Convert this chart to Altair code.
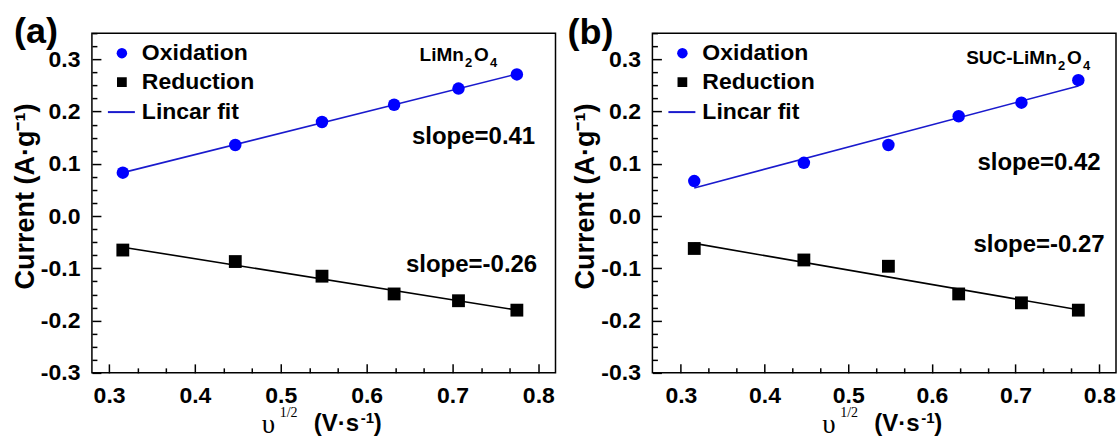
import altair as alt
import pandas as pd

# ---- data ----
x_vals = [0.316, 0.447, 0.548, 0.632, 0.707, 0.775]
a_ox = [0.083, 0.136, 0.180, 0.213, 0.244, 0.271]
a_red = [-0.065, -0.087, -0.115, -0.149, -0.162, -0.180]
b_ox = [0.067, 0.102, 0.136, 0.191, 0.217, 0.260]
b_red = [-0.062, -0.084, -0.096, -0.149, -0.166, -0.180]

x_major = [0.3, 0.4, 0.5, 0.6, 0.7, 0.8]
x_minor = [0.3333, 0.3667, 0.4333, 0.4667, 0.5333, 0.5667,
           0.6333, 0.6667, 0.7333, 0.7667]
y_major = [-0.3, -0.2, -0.1, 0.0, 0.1, 0.2, 0.3]
y_minor = [-0.275, -0.25, -0.225, -0.175, -0.15, -0.125, -0.075, -0.05,
           -0.025, 0.025, 0.05, 0.075, 0.125, 0.15, 0.175, 0.225, 0.25,
           0.275, 0.325, 0.35]

series_names = ["Oxidation", "Reduction"]
legend_fit = "Lincar fit"

W, H = 464, 340
FONT = "Liberation Sans"
SERIF = "Liberation Serif"
BLUE = "#0000ff"
LINE_BLUE = "#1a1acd"


def text(t, x, y, size, font=FONT, weight="bold", align="left",
         baseline="alphabetic"):
    return alt.Chart(alt.Data(values=[{}])).mark_text(
        text=t, fontSize=size, font=font, fontWeight=weight, align=align,
        baseline=baseline, color="black"
    ).encode(x=alt.value(x), y=alt.value(y))


def formula(prefix, x0, y0):
    # prefix + Mn_2 O_4 with real sub-scripts
    size, sub = 19, 13
    w_prefix = {"LiMn": 44.5, "SUC-LiMn": 91.0}[prefix]
    return [
        text(prefix, x0, y0, size),
        text("2", x0 + w_prefix + 1.0, y0 + 6, sub),
        text("O", x0 + w_prefix + 10.0, y0, size),
        text("4", x0 + w_prefix + 26.0, y0 + 6, sub),
    ]


def panel(ox, red, xdom, tag, tag_dx, tag_y, name, name_pos, s_ox, s_ox_pos,
          s_red, s_red_pos):
    df = pd.DataFrame({
        "x": x_vals + x_vals,
        "y": ox + red,
        "series": [series_names[0]] * 6 + [series_names[1]] * 6,
    })
    base = alt.Chart(df)
    xs = alt.Scale(domain=xdom, nice=False, zero=False)
    ys = alt.Scale(domain=[-0.3, 0.35], nice=False, zero=False)

    x_maj = alt.Axis(orient="bottom", values=x_major, tickSize=9, offset=-9,
                     domain=False, grid=False, title=None, format=".1f",
                     labelFont=FONT, labelFontSize=23, labelFontWeight="bold",
                     labelColor="black", labelPadding=12, labelFlush=False,
                     labelOverlap=False, tickColor="black", tickWidth=1.5)
    x_min = alt.Axis(orient="bottom", values=x_minor, tickSize=5, offset=-5,
                     domain=False, grid=False, title=None, labels=False,
                     tickColor="black", tickWidth=1.5)
    y_maj = alt.Axis(orient="left", values=y_major, tickSize=9, offset=-9,
                     domain=False, grid=False,
                     title="Current (A·g⁻¹)", titleFont=FONT,
                     titleFontSize=27, titleFontWeight="bold",
                     titleColor="black", titlePadding=1, titleY=163,
                     labelExpr="replace(format(datum.value, '.1f'), '\u2212', '-')",
                     labelFont=FONT, labelFontSize=23, labelFontWeight="bold",
                     labelColor="black", labelPadding=12, labelFlush=False,
                     labelOverlap=False, tickColor="black", tickWidth=1.5)
    y_min = alt.Axis(orient="left", values=y_minor, tickSize=5, offset=-5,
                     domain=False, grid=False, title=None, labels=False,
                     tickColor="black", tickWidth=1.5)

    fit_ox = base.transform_filter(alt.datum.series == series_names[0]) \
        .transform_regression("x", "y") \
        .mark_line(color=LINE_BLUE, strokeWidth=1.6) \
        .encode(x=alt.X("x:Q", scale=xs, axis=None),
                y=alt.Y("y:Q", scale=ys, axis=None))
    fit_red = base.transform_filter(alt.datum.series == series_names[1]) \
        .transform_regression("x", "y") \
        .mark_line(color="black", strokeWidth=1.6) \
        .encode(x=alt.X("x:Q", scale=xs, axis=None),
                y=alt.Y("y:Q", scale=ys, axis=None))
    pts_ox = base.transform_filter(alt.datum.series == series_names[0]) \
        .mark_circle(size=155, color=BLUE, opacity=1) \
        .encode(x=alt.X("x:Q", scale=xs, axis=x_maj),
                y=alt.Y("y:Q", scale=ys, axis=y_maj))
    pts_red = base.transform_filter(alt.datum.series == series_names[1]) \
        .mark_square(size=165, color="black", opacity=1) \
        .encode(x=alt.X("x:Q", scale=xs, axis=x_min),
                y=alt.Y("y:Q", scale=ys, axis=y_min))

    # legend (drawn inside the frame, upper left)
    leg = [
        alt.Chart(alt.Data(values=[{}])).mark_circle(size=110, color=BLUE, opacity=1)
        .encode(x=alt.value(30), y=alt.value(20)),
        alt.Chart(alt.Data(values=[{}])).mark_square(size=95, color="black", opacity=1)
        .encode(x=alt.value(30), y=alt.value(49)),
        alt.Chart(alt.Data(values=[{}])).mark_rule(color=LINE_BLUE, strokeWidth=2)
        .encode(x=alt.value(16), x2=alt.value(43), y=alt.value(79)),
        text(series_names[0], 50, 20, 23, baseline="middle"),
        text(series_names[1], 50, 49, 23, baseline="middle"),
        text(legend_fit, 50, 79, 23, baseline="middle"),
    ]

    # x-axis title pieces
    xt = [
        text("υ", 170, 400, 27, font=SERIF, weight="normal"),
        text("1/2", 188, 384, 14, font=SERIF, weight="normal"),
        text("(V·s", 222, 398, 24),
        text("-1", 269, 390, 15),
        text(")", 282, 398, 24),
    ]

    ann = [
        text(tag, tag_dx, tag_y, 36),
        *formula(name, name_pos[0], name_pos[1]),
        text(s_ox, s_ox_pos[0], s_ox_pos[1], 24, align="center", baseline="middle"),
        text(s_red, s_red_pos[0], s_red_pos[1], 24, align="center", baseline="middle"),
    ]

    return alt.layer(fit_ox, fit_red, pts_ox, pts_red, *leg, *xt, *ann) \
        .resolve_axis(x="independent", y="independent") \
        .properties(width=W, height=H)


pa = panel(a_ox, a_red, [0.28, 0.82], "(a)", -78, 10, "LiMn", (328, 28),
           "slope=0.41", (382, 104), "slope=-0.26", (380, 232))
pb = panel(b_ox, b_red, [0.266, 0.82], "(b)", -85, 11, "SUC-LiMn", (314, 31),
           "slope=0.42", (387, 130), "slope=-0.27", (387, 212))

chart = alt.hconcat(pa, pb, spacing=10).properties(
    padding={"left": 10, "top": 13, "right": 0, "bottom": 0},
    background="white",
).configure_view(stroke="black", strokeWidth=1.5)

chart.save("out.html", embed_options={"renderer": "svg", "actions": False})
